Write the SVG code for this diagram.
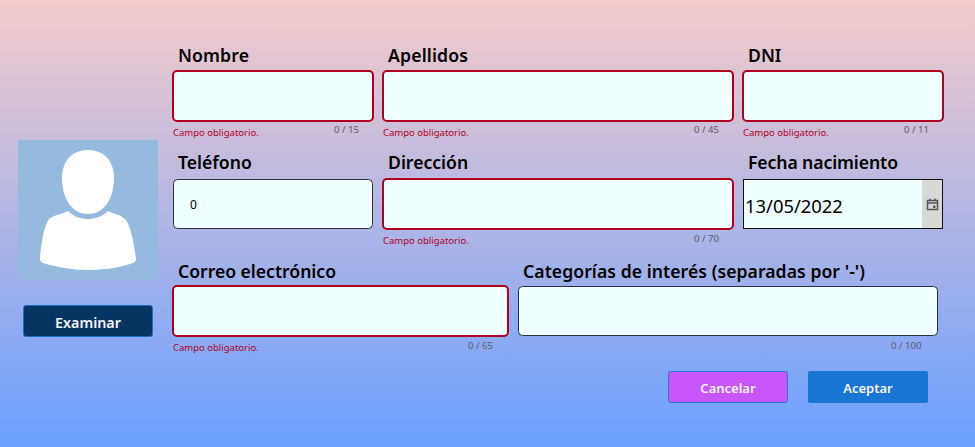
<svg xmlns="http://www.w3.org/2000/svg" width="975" height="447" viewBox="0 0 975 447">
<style>
text{font-family:"Noto Sans","Open Sans","Liberation Sans",sans-serif}
.lab{font-size:17.6px;font-weight:600;fill:#000}
.err{font-size:9.5px;fill:#b00020}
.cnt{font-size:9.6px;fill:#5c5c68}
.bad{fill:#f0ffff;stroke:#b00020;stroke-width:2}
.ok{fill:#f0ffff;stroke:#2a2f45;stroke-width:1}
.btn{font-size:13px;font-weight:600;fill:#f4f4fa;text-anchor:middle}
</style>
<defs><linearGradient id="bg" x1="0" y1="0" x2="0" y2="1"><stop offset="0" stop-color="#f5cbcb"/><stop offset="1" stop-color="#6aa0ff"/></linearGradient></defs>
<rect width="975" height="447" fill="url(#bg)"/>
<g id="foto">
<rect x="18" y="140" width="140" height="140" fill="#95bade"/>
<path d="M88 150C71 150 62 162 62 178C62 197 71 214 88 214C105 214 114 197 114 178C114 162 105 150 88 150Z" fill="#fff"/>
<path d="M68 211C73 216 80 219 88 219C96 219 103 216 108 211C114 214 121 215 125 219C131 225 134 245 136 259C136 261 135 262 133 263C118 268 103 270 88 270C72 270 56 267 43 263C41 262 40 261 40 258C41 246 43 228 49 219C54 215 62 214 68 211Z" fill="#fff"/>
</g>
<g id="examinar"><rect x="23.500" y="305.500" width="129" height="31" rx="2.500" fill="#063562" stroke="#1a6fc4"/><text class="btn" x="88" y="328" style="font-size:14.300px">Examinar</text></g>
<g id="nombre"><text class="lab" x="178" y="62" textLength="71">Nombre</text><rect class="bad" x="173" y="71" width="200" height="50" rx="4"/><text class="err" x="173" y="136">Campo obligatorio.</text><text class="cnt" x="334" y="133">0 / 15</text></g>
<g id="apellidos"><text class="lab" x="388" y="62" textLength="80">Apellidos</text><rect class="bad" x="383" y="71" width="350" height="50" rx="4"/><text class="err" x="383" y="136">Campo obligatorio.</text><text class="cnt" x="694" y="133">0 / 45</text></g>
<g id="dni"><text class="lab" x="748" y="62">DNI</text><rect class="bad" x="743" y="71" width="200" height="50" rx="4"/><text class="err" x="743" y="136">Campo obligatorio.</text><text class="cnt" x="904" y="133">0 / 11</text></g>
<g id="telefono"><text class="lab" x="178" y="169">Teléfono</text><rect class="ok" x="173.500" y="179.500" width="199" height="49" rx="4"/><text x="190" y="209" font-size="12" fill="#000">0</text></g>
<g id="direccion"><text class="lab" x="388" y="169">Dirección</text><rect class="bad" x="383" y="179" width="350" height="50" rx="4"/><text class="err" x="383" y="244">Campo obligatorio.</text><text class="cnt" x="694" y="242">0 / 70</text></g>
<g id="fecha"><text class="lab" x="748" y="169" textLength="150">Fecha nacimiento</text><rect x="743.500" y="179.500" width="199" height="49" fill="#f0ffff" stroke="#111"/><rect x="922" y="180" width="20" height="48" fill="#d8d8d8"/><text x="745" y="212.500" font-size="18.400" fill="#000">13/05/2022</text><path d="M927.500 203V200.500H937.500V203M927.500 203V209.500H937.500V203H927.500M930 198.500V200M935 198.500V200" fill="none" stroke="#555" stroke-width="1.500"/><rect x="933" y="205.500" width="2.500" height="2.500" fill="#555"/></g>
<g id="correo"><text class="lab" x="178" y="278" textLength="158">Correo electrónico</text><rect class="bad" x="173" y="286" width="335" height="50" rx="4"/><text class="err" x="173" y="351">Campo obligatorio.</text><text class="cnt" x="468" y="349">0 / 65</text></g>
<g id="categorias"><text class="lab" x="523" y="278" textLength="342">Categorías de interés (separadas por '-')</text><rect class="ok" x="518.500" y="286.500" width="419" height="49" rx="4"/><text class="cnt" x="891" y="349">0 / 100</text></g>
<g id="cancelar"><rect x="668.500" y="371.500" width="119" height="31" rx="2" fill="#c855f7" stroke="#2a78d0"/><text class="btn" x="728" y="393">Cancelar</text></g>
<g id="aceptar"><rect x="808" y="371" width="120" height="32" rx="2" fill="#1976d2"/><text class="btn" x="868" y="393">Aceptar</text></g>
<g id="connectors"/>
</svg>
